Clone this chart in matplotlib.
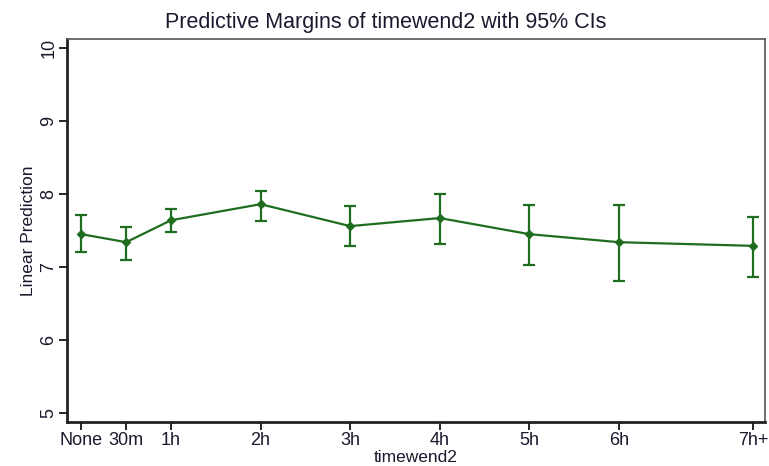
"""Predictive margins of timewend2 with 95% confidence intervals."""

import matplotlib.pyplot as plt

plt.rcParams["font.family"] = ["Liberation Sans", "DejaVu Sans"]

# ── Data ───────────────────────────────────────────────────────────────
x_pos = [0, 0.5, 1, 2, 3, 4, 5, 6, 7.5]
x_labels = ["None", "30m", "1h", "2h", "3h", "4h", "5h", "6h", "7h+"]
margin = [7.45, 7.34, 7.64, 7.86, 7.56, 7.67, 7.45, 7.34, 7.29]
ci_low = [7.20, 7.09, 7.48, 7.63, 7.29, 7.31, 7.03, 6.81, 6.87]
ci_high = [7.71, 7.55, 7.79, 8.04, 7.83, 8.00, 7.85, 7.85, 7.69]

GREEN = "#1f6e1f"
TEXT = "#1a1a2e"


def main() -> None:
    fig = plt.figure(figsize=(7.69, 4.66), dpi=100)
    ax = fig.add_axes([67 / 769, 1 - 422 / 466, (765 - 67) / 769, (422 - 39) / 466])

    err = [
        [m - lo for m, lo in zip(margin, ci_low)],
        [hi - m for m, hi in zip(margin, ci_high)],
    ]
    ax.errorbar(
        x_pos, margin, yerr=err,
        color=GREEN, ecolor=GREEN, lw=1.6, elinewidth=1.6,
        capsize=4, capthick=1.6, marker="D", markersize=4,
    )

    ax.set_xlim(-0.16, 7.63)
    ax.set_ylim(4.88, 10.12)
    ax.set_xticks(x_pos)
    ax.set_xticklabels(x_labels)
    ax.set_yticks([5, 6, 7, 8, 9, 10])
    for lbl in ax.get_yticklabels():
        lbl.set_rotation(90)
        lbl.set_va("center")

    ax.tick_params(axis="both", direction="out", length=6, width=1.2,
                   labelsize=13, colors="black", labelcolor=TEXT, pad=1)

    for side in ["left", "bottom"]:
        ax.spines[side].set_linewidth(2.0)
        ax.spines[side].set_color("#222222")
    for side in ["top", "right"]:
        ax.spines[side].set_linewidth(1.2)
        ax.spines[side].set_color("#555555")

    # Stata centres the title on the whole graph, not on the plot region
    fig.suptitle("Predictive Margins of timewend2 with 95% CIs",
                 x=0.502, y=1 - 28 / 466, va="baseline",
                 fontsize=15.5, color=TEXT)
    ax.set_ylabel("Linear Prediction", fontsize=12.5, color=TEXT, labelpad=3)
    ax.set_xlabel("timewend2", fontsize=12.5, color=TEXT, labelpad=1)

    fig.savefig("out.png", dpi=100, facecolor="white")
    plt.close(fig)


if __name__ == "__main__":
    main()
